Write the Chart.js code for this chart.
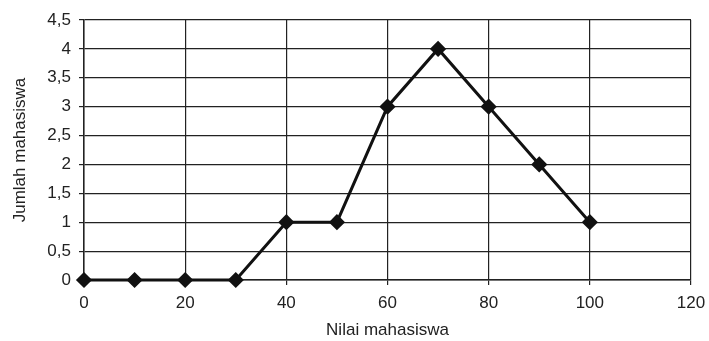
<!DOCTYPE html>
<html>
<head>
<meta charset="utf-8">
<script src="https://cdn.jsdelivr.net/npm/chart.js@4"></script>
<style>
  html, body { margin: 0; padding: 0; background: #fff; }
  #wrap { width: 709px; height: 341px; }
</style>
</head>
<body>
<div id="wrap"><canvas id="nilaiChart" width="709" height="341"></canvas></div>
<script>
// data
const nilai = [0, 10, 20, 30, 40, 50, 60, 70, 80, 90, 100];
const jumlah = [0, 0, 0, 0, 1, 1, 3, 4, 3, 2, 1];
const xTicks = [0, 20, 40, 60, 80, 100, 120];
const yTicks = [0, 0.5, 1, 1.5, 2, 2.5, 3, 3.5, 4, 4.5];

const points = nilai.map((x, i) => ({ x: x, y: jumlah[i] }));
const font = { family: "'Liberation Sans', Arial, sans-serif", size: 17 };
const ink = '#222';

const ctx = document.getElementById('nilaiChart').getContext('2d');
new Chart(ctx, {
  type: 'scatter',
  data: {
    datasets: [{
      label: 'Jumlah mahasiswa',
      data: points,
      showLine: true,
      borderColor: '#111',
      backgroundColor: '#111',
      borderWidth: 3,
      pointStyle: 'rectRot',
      pointRadius: 6,
      pointHoverRadius: 6,
      tension: 0,
      clip: false
    }]
  },
  options: {
    responsive: false,
    animation: false,
    layout: { padding: { top: 20, right: 18, left: 10, bottom: 0 } },
    plugins: { legend: { display: false }, tooltip: { enabled: false } },
    scales: {
      x: {
        type: 'linear',
        min: 0,
        max: 120,
        afterBuildTicks: scale => { scale.ticks = xTicks.map(v => ({ value: v })); },
        afterFit: scale => {
          scale.height = 61;
          scale.paddingLeft = 0;
          scale.paddingRight = 0;
        },
        grid: { color: ink, lineWidth: 1.2, tickLength: 5 },
        border: { color: ink, width: 1.5 },
        ticks: { color: ink, font: font, padding: 8, maxRotation: 0 },
        title: { display: true, text: 'Nilai mahasiswa', color: ink, font: font, padding: { top: 4, bottom: 0 } }
      },
      y: {
        min: 0,
        max: 4.5,
        afterBuildTicks: scale => { scale.ticks = yTicks.map(v => ({ value: v })); },
        afterFit: scale => { scale.width = 74; },
        grid: { color: ink, lineWidth: 1.2, tickLength: 5 },
        border: { color: ink, width: 1.5 },
        ticks: {
          color: ink,
          font: font,
          padding: 8,
          callback: v => String(v).replace('.', ',')
        },
        title: { display: true, text: 'Jumlah mahasiswa', color: ink, font: font, padding: 0 }
      }
    }
  }
});
</script>
</body>
</html>
